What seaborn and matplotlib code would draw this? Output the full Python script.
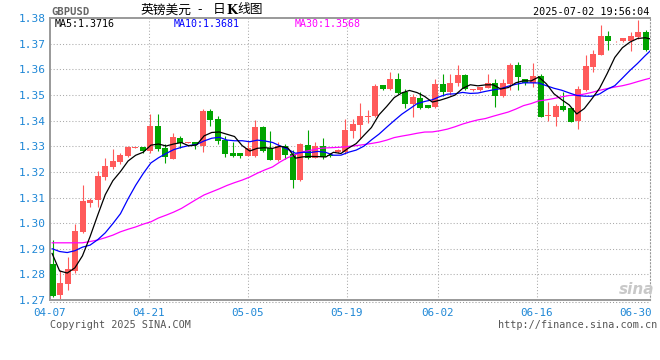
import numpy as np
import pandas as pd
import matplotlib
matplotlib.use("Agg")
import matplotlib.pyplot as plt
from matplotlib.lines import Line2D
import seaborn as sns

# ─────────────────────────────────────────────────────────────────────────────
# DATA  (GBPUSD daily K, 2025-04-07 .. 2025-07-02)
# ─────────────────────────────────────────────────────────────────────────────

opens = [1.2840, 1.2719, 1.2764, 1.2813, 1.2965, 1.3080, 1.3090, 1.3181, 1.3220, 1.3240,
         1.3263, 1.3293, 1.3297, 1.3283, 1.3379, 1.3295, 1.3252, 1.3332, 1.3313, 1.3315,
         1.3300, 1.3438, 1.3405, 1.3323, 1.3273, 1.3273, 1.3261, 1.3261, 1.3374, 1.3295,
         1.3247, 1.3303, 1.3271, 1.3170, 1.3304, 1.3255, 1.3300, 1.3266, 1.3276, 1.3278,
         1.3360, 1.3383, 1.3413, 1.3417, 1.3538, 1.3522, 1.3561, 1.3512, 1.3465, 1.3488,
         1.3461, 1.3453, 1.3543, 1.3512, 1.3547, 1.3578, 1.3518, 1.3518, 1.3529, 1.3549,
         1.3495, 1.3544, 1.3616, 1.3563, 1.3546, 1.3573, 1.3418, 1.3416, 1.3459, 1.3451,
         1.3400, 1.3518, 1.3609, 1.3656, 1.3731, 1.3710, 1.3710, 1.3710, 1.3727, 1.3745]
highs = [1.2934, 1.2817, 1.2869, 1.2996, 1.3149, 1.3097, 1.3203, 1.3255, 1.3290, 1.3275,
         1.3300, 1.3298, 1.3297, 1.3426, 1.3426, 1.3308, 1.3353, 1.3340, 1.3318, 1.3315,
         1.3444, 1.3447, 1.3417, 1.3342, 1.3317, 1.3273, 1.3319, 1.3404, 1.3378, 1.3358,
         1.3317, 1.3308, 1.3287, 1.3314, 1.3362, 1.3316, 1.3334, 1.3272, 1.3290, 1.3405,
         1.3405, 1.3471, 1.3440, 1.3542, 1.3540, 1.3592, 1.3588, 1.3522, 1.3505, 1.3512,
         1.3461, 1.3561, 1.3582, 1.3582, 1.3617, 1.3584, 1.3523, 1.3533, 1.3582, 1.3562,
         1.3563, 1.3625, 1.3631, 1.3563, 1.3625, 1.3583, 1.3475, 1.3465, 1.3511, 1.3451,
         1.3537, 1.3658, 1.3675, 1.3774, 1.3750, 1.3713, 1.3723, 1.3745, 1.3792, 1.3753]
lows = [1.2712, 1.2704, 1.2739, 1.2804, 1.2960, 1.3062, 1.3062, 1.3168, 1.3212, 1.3229,
        1.3259, 1.3292, 1.3275, 1.3275, 1.3283, 1.3233, 1.3252, 1.3292, 1.3312, 1.3289,
        1.3278, 1.3378, 1.3310, 1.3257, 1.3257, 1.3255, 1.3261, 1.3257, 1.3277, 1.3247,
        1.3243, 1.3249, 1.3138, 1.3165, 1.3249, 1.3255, 1.3249, 1.3258, 1.3272, 1.3271,
        1.3334, 1.3332, 1.3391, 1.3415, 1.3519, 1.3519, 1.3505, 1.3448, 1.3414, 1.3445,
        1.3448, 1.3451, 1.3495, 1.3499, 1.3536, 1.3518, 1.3517, 1.3517, 1.3527, 1.3453,
        1.3493, 1.3518, 1.3518, 1.3541, 1.3531, 1.3413, 1.3400, 1.3378, 1.3439, 1.3396,
        1.3367, 1.3515, 1.3592, 1.3656, 1.3678, 1.3709, 1.3709, 1.3672, 1.3718, 1.3672]
closes = [1.2717, 1.2766, 1.2821, 1.2969, 1.3087, 1.3092, 1.3184, 1.3223, 1.3242, 1.3266,
          1.3298, 1.3296, 1.3283, 1.3379, 1.3289, 1.3259, 1.3335, 1.3311, 1.3315, 1.3305,
          1.3438, 1.3401, 1.3321, 1.3270, 1.3261, 1.3261, 1.3295, 1.3374, 1.3282, 1.3247,
          1.3303, 1.3266, 1.3170, 1.3308, 1.3255, 1.3300, 1.3258, 1.3262, 1.3285, 1.3362,
          1.3386, 1.3417, 1.3417, 1.3534, 1.3523, 1.3561, 1.3508, 1.3465, 1.3492, 1.3448,
          1.3451, 1.3543, 1.3512, 1.3547, 1.3578, 1.3522, 1.3522, 1.3531, 1.3549, 1.3496,
          1.3549, 1.3616, 1.3570, 1.3546, 1.3573, 1.3416, 1.3421, 1.3456, 1.3443, 1.3396,
          1.3522, 1.3612, 1.3660, 1.3731, 1.3710, 1.3712, 1.3722, 1.3731, 1.3745, 1.3677]

# moving averages need closes from before 04-07 -> first points
ma5_head = [1.2882, 1.2813, 1.2805, 1.2825]
ma10_head = [1.2900, 1.2889, 1.2885, 1.2892, 1.2906, 1.2914, 1.2935, 1.2962, 1.2998]
ma30_head = [1.2923, 1.2923, 1.2923, 1.2923, 1.2923, 1.2928, 1.2934, 1.2943, 1.2953, 1.2966,
             1.2976, 1.2985, 1.2996, 1.3005, 1.3020, 1.3031, 1.3043, 1.3057, 1.3075, 1.3093,
             1.3110, 1.3122, 1.3134, 1.3147, 1.3158, 1.3168, 1.3180, 1.3195, 1.3208]

date_labels = ["04-07", "04-21", "05-05", "05-19", "06-02", "06-16", "06-30"]
date_pos = [0, 13, 26, 39, 51, 64, 77]
price_ticks = [1.27, 1.28, 1.29, 1.30, 1.31, 1.32, 1.33, 1.34, 1.35, 1.36, 1.37, 1.38]

RED, GREEN = "#FF5A5A", "#00A400"
BLUE_TXT = "#1E87D6"
GRID = "#AAAAAA"
FRAME = "#999999"

# ─────────────────────────────────────────────────────────────────────────────
# FIGURE
# ─────────────────────────────────────────────────────────────────────────────

sns.set_style("white")
plt.rcParams["font.family"] = ["DejaVu Sans Mono", "Noto Sans CJK SC"]

W, H = 660, 360
fig = plt.figure(figsize=(W / 100, H / 100), dpi=100)


def fx(x):
    return x / W


def fy(y):
    return 1 - y / H


ax = fig.add_axes([fx(50), fy(299.9), fx(650) - fx(50), fy(18.3) - fy(299.9)])

o, hi, lo, c = (np.array(a) for a in (opens, highs, lows, closes))
n = len(c)
idx = np.arange(n)
cols = np.where(c >= o, RED, GREEN)

# candles
ax.vlines(idx, lo, hi, colors=cols, linewidth=0.8, zorder=2)
body = np.maximum(np.abs(c - o), 0.00008)
ax.bar(idx, body, bottom=np.minimum(o, c), width=0.8, color=cols, linewidth=0, zorder=3)

# moving averages (the chart spaces its lines a bit wider than its candles)
cs = pd.Series(closes)
ma5 = cs.rolling(5).mean().to_numpy()
ma10 = cs.rolling(10).mean().to_numpy()
ma30 = cs.rolling(30).mean().to_numpy()
ma5[:len(ma5_head)] = ma5_head
ma10[:len(ma10_head)] = ma10_head
ma30[:len(ma30_head)] = ma30_head

step = 7.605 / 7.505
ma_x = idx * step - 0.09
for vals, col in [(ma30, "#FF00FF"), (ma10, "#0000FF"), (ma5, "black")]:
    sns.lineplot(x=ma_x, y=vals, color=col, linewidth=0.9, ax=ax, zorder=4)

# grid
for p in price_ticks[1:-1]:
    ax.axhline(p, color=GRID, lw=0.75, ls=(0, (1, 2)), zorder=1)
grid_x = np.array(date_pos) * step - 0.36
for gx in grid_x[1:-1]:
    ax.axvline(gx, color=GRID, lw=0.75, ls=(0, (1, 2)), zorder=1)

ax.set_xlim(-0.36, 79.59)
ax.set_ylim(1.27, 1.38)
ax.set_yticks(price_ticks)
ax.set_yticklabels([f"{p:.2f}" for p in price_ticks], color=BLUE_TXT, fontsize=8)
ax.set_xticks(grid_x)
ax.set_xticklabels(date_labels, color=BLUE_TXT, fontsize=7.8)
ax.tick_params(axis="y", length=0, pad=3)
ax.tick_params(axis="x", length=0, pad=6)
ax.set_xlabel("")
ax.set_ylabel("")

for side in ["left", "top", "bottom"]:
    ax.spines[side].set_color(FRAME)
    ax.spines[side].set_linewidth(1.4)
ax.spines["right"].set_color(FRAME)
ax.spines["right"].set_linewidth(0.8)
ax.spines["right"].set_linestyle((0, (1, 2)))
fig.add_artist(Line2D([fx(50), fx(650)], [fy(301.5), fy(301.5)], color=FRAME,
                      lw=0.75, ls=(0, (1, 2))))

# header / legend texts
cjk = ["Noto Sans CJK SC", "DejaVu Sans"]
fig.text(fx(51), fy(12), "GBPUSD", color="#666666", fontsize=7.6, fontweight="bold",
         ha="left", va="center")
fig.text(fx(140), fy(10), "英镑美元", color="black", fontsize=9.2, family=cjk,
         ha="left", va="center")
fig.text(fx(200), fy(10), "-", color="black", fontsize=9.2, family=cjk,
         ha="center", va="center")
fig.text(fx(213), fy(10), "日", color="black", fontsize=9.2, family=cjk,
         ha="left", va="center")
fig.text(fx(231.5), fy(10), "K", color="black", fontsize=9, fontweight="bold",
         family="DejaVu Serif", ha="center", va="center")
fig.text(fx(237), fy(10), "线图", color="black", fontsize=9.2, family=cjk,
         ha="left", va="center")
fig.text(fx(649), fy(12), "2025-07-02 19:56:04", color="black", fontsize=7.3,
         ha="right", va="center")
fig.text(fx(55), fy(24), "MA5:1.3716", color="black", fontsize=7.2, ha="left", va="center")
fig.text(fx(174), fy(24), "MA10:1.3681", color="#0000FF", fontsize=7.2, ha="left", va="center")
fig.text(fx(295), fy(24), "MA30:1.3568", color="#FF00FF", fontsize=7.2, ha="left", va="center")

# footer
fig.text(fx(50), fy(325), "Copyright 2025 SINA.COM", color="#555555", fontsize=7.3,
         ha="left", va="center")
fig.text(fx(657), fy(325), "http://finance.sina.com.cn", color="#555555", fontsize=7.3,
         ha="right", va="center")
fig.text(fx(637), fy(289), "sina", color="#C8C8C8", fontsize=11, fontstyle="italic",
         fontweight="bold", family="DejaVu Sans", ha="center", va="center")

fig.savefig("out.png", dpi=100)
